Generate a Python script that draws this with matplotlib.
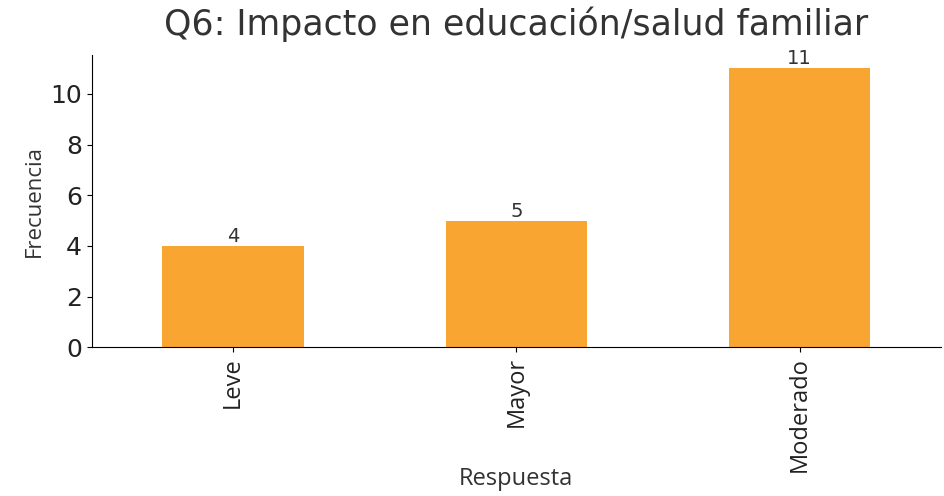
import matplotlib
matplotlib.use("Agg")
import matplotlib.pyplot as plt

# Q6 answers and counts
categories = ["Leve", "Mayor", "Moderado"]
counts = [4, 5, 11]

fig = plt.figure(figsize=(9.44, 4.96), dpi=100)
ax = fig.add_axes([0.097, 0.30, 0.90, 0.59])

x = range(len(categories))
bars = ax.bar(x, counts, width=0.5, color="#F9A532")
ax.bar_label(bars, labels=[str(c) for c in counts], fontsize=14, color="#333333", padding=0)

ax.set_xlim(-0.5, len(categories) - 0.5)
ax.set_ylim(0, max(counts) * 1.05)
ax.set_xticks(list(x))
ax.set_xticklabels(categories, rotation=90, fontsize=17, family="Open Sans", color="#222222")
ax.tick_params(axis="y", labelsize=18, labelcolor="#222222")
ax.set_yticks([0, 2, 4, 6, 8, 10])

ax.spines["top"].set_visible(False)
ax.spines["right"].set_visible(False)

ax.set_title("Q6: Impacto en educación/salud familiar", fontsize=25,
             family="DejaVu Sans", color="#333333", pad=14)
ax.set_xlabel("Respuesta", fontsize=17, family="Open Sans", color="#333333")
ax.xaxis.set_label_coords(0.5, -0.41)
ax.set_ylabel("Frecuencia", fontsize=16, family="Open Sans", color="#333333")

fig.savefig("out.png", dpi=100)
